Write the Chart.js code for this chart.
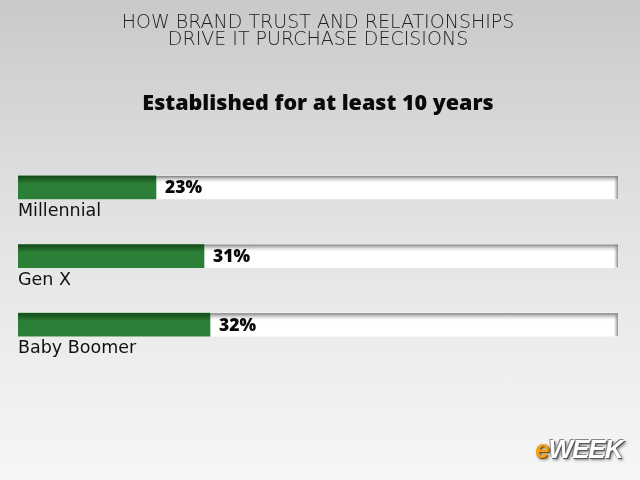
<!DOCTYPE html>
<html>
<head>
<meta charset="utf-8">
<script src="https://cdn.jsdelivr.net/npm/chart.js@4"></script>
<style>
  html, body { margin: 0; padding: 0; }
  body {
    width: 640px; height: 480px; overflow: hidden; position: relative;
    background: linear-gradient(to bottom, #c8c9cb 0%, #dcdddf 35%, #ececec 70%, #f6f6f6 100%);
  }
  #chart { position: absolute; left: 0; top: 0; }
  .logo {
    position: absolute; left: 535px; top: 434px;
    font-family: "Liberation Sans Narrow", "Liberation Sans", sans-serif;
    font-weight: bold; font-style: italic; font-size: 26px; letter-spacing: -1px;
    color: #fff; text-shadow: 1px 1px 0 #555, 2px 2px 3px #777, -1px -1px 0 #888;
  }
  .logo span { color: #f2a11d; text-shadow: 1px 1px 0 #7a4a00, 2px 2px 3px #777; }
</style>
</head>
<body>
<canvas id="chart" width="640" height="480"></canvas>
<div class="logo"><span>e</span>WEEK</div>
<script type="text/javascript">
    var categories = ["Millennial", "Gen X", "Baby Boomer"];
    var shares = [23, 31, 32];
    var fullScale = [100, 100, 100];

    // text under each bar and the % just right of the green part
    var barLabels = {
        id: "barLabels",
        afterDatasetsDraw: function (chart) {
            var ctx = chart.ctx;
            var meta = chart.getDatasetMeta(0);
            ctx.save();
            ctx.textBaseline = "middle";
            ctx.textAlign = "left";
            meta.data.forEach(function (el, i) {
                ctx.fillStyle = "#0a0a0a";
                ctx.font = "800 17.5px 'Open Sans'";
                ctx.fillText(shares[i] + "%", el.x + 9, el.y + 1);
                ctx.fillStyle = "#111";
                ctx.font = "17.5px 'DejaVu Sans'";
                ctx.fillText(categories[i], chart.chartArea.left, el.y + 24);
            });
            ctx.restore();
        }
    };

    // shading on top of the bars
    var barShade = {
        id: "barShade",
        afterDatasetDraw: function (chart, args) {
            var ctx = chart.ctx;
            ctx.save();
            args.meta.data.forEach(function (el) {
                var top = el.y - el.height / 2;
                var left = Math.min(el.base, el.x);
                var w = Math.abs(el.x - el.base);
                var g = ctx.createLinearGradient(0, top, 0, top + 8);
                if (args.index === 1) {
                    g.addColorStop(0, "rgba(110,110,110,0.9)");
                    g.addColorStop(1, "rgba(255,255,255,0)");
                    ctx.fillStyle = g;
                    ctx.fillRect(left, top, w, 8);
                    var r = ctx.createLinearGradient(el.x - 4, 0, el.x, 0);
                    r.addColorStop(0, "rgba(150,150,150,0)");
                    r.addColorStop(1, "rgba(130,130,130,0.9)");
                    ctx.fillStyle = r;
                    ctx.fillRect(el.x - 4, top, 4, el.height);
                } else {
                    g.addColorStop(0, "rgba(10,50,15,0.7)");
                    g.addColorStop(1, "rgba(10,50,15,0)");
                    ctx.fillStyle = g;
                    ctx.fillRect(left, top, w, 8);
                }
            });
            ctx.restore();
        }
    };

    var ctx = document.getElementById("chart").getContext("2d");
    new Chart(ctx, {
        type: "bar",
        data: {
            labels: categories,
            datasets: [{
                label: "Share",
                data: shares,
                backgroundColor: "#2c7f36",
                grouped: false,
                barThickness: 23,
                order: 0
            }, {
                label: "Scale",
                data: fullScale,
                backgroundColor: "#ffffff",
                grouped: false,
                barThickness: 23,
                order: 1
            }]
        },
        options: {
            indexAxis: "y",
            responsive: false,
            animation: false,
            layout: { padding: { left: 18, right: 22, top: 0, bottom: 121 } },
            scales: {
                x: { min: 0, max: 100, display: false },
                y: { display: false }
            },
            plugins: {
                legend: { display: false },
                tooltip: { enabled: false },
                title: {
                    display: true,
                    text: ["HOW BRAND TRUST AND RELATIONSHIPS", "DRIVE IT PURCHASE DECISIONS"],
                    color: "#222",
                    font: { family: "'DejaVu Sans'", size: 19, weight: 200, lineHeight: 0.88 },
                    padding: { top: 15, bottom: 44 }
                },
                subtitle: {
                    display: true,
                    text: "Established for at least 10 years",
                    color: "#0a0a0a",
                    font: { family: "'Open Sans'", size: 21.5, weight: 800, lineHeight: 1.1 },
                    padding: { top: 0, bottom: 37 }
                }
            }
        },
        plugins: [barLabels, barShade]
    });
</script>
</body>
</html>
